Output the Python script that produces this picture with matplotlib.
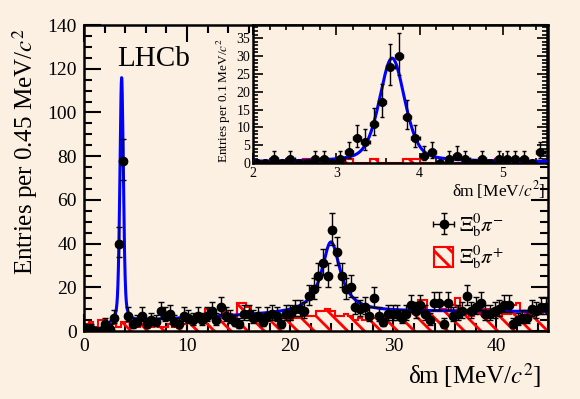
import numpy as np
import matplotlib
matplotlib.use("Agg")
import matplotlib.pyplot as plt
from matplotlib.ticker import MultipleLocator

plt.rcParams["font.family"] = ["Liberation Serif", "DejaVu Serif"]
plt.rcParams["mathtext.fontset"] = "stix"
plt.rcParams["hatch.color"] = "red"
plt.rcParams["hatch.linewidth"] = 2.0

BG = "#FCF0E2"

# main plot: 0.45 MeV bins from 0 to 45
bin_width = 0.45
n_bins = 100
# Xi_b0 pi- (right sign) counts
rs_counts = [1, 1, 0, 0, 3, 1, 6, 40, 78, 7,
             3, 4, 7, 3, 5, 4, 9, 7, 8, 4,
             3, 7, 6, 5, 7, 5, 7, 9, 5, 11,
             7, 6, 4, 3, 8, 8, 6, 7, 4, 7,
             8, 7, 3, 8, 8, 10, 10, 9, 16, 19,
             25, 31, 25, 46, 36, 25, 19, 20, 11, 10,
             11, 7, 15, 7, 4, 8, 8, 8, 6, 8,
             12, 9, 12, 8, 5, 13, 13, 3, 13, 7,
             8, 9, 16, 9, 11, 13, 8, 8, 9, 10,
             12, 12, 3, 5, 6, 6, 10, 9, 11, 11]
# Xi_b0 pi+ (wrong sign) counts
ws_counts = [3, 4, 2, 5, 5, 3, 3, 2, 4, 4,
             2, 2, 3, 2, 2, 3, 2, 2, 3, 2,
             2, 3, 6, 6, 8, 8, 10, 7, 6, 6,
             9, 8, 6, 13, 13, 11, 7, 8, 7, 7,
             6, 7, 6, 6, 5, 6, 6, 7, 7, 7,
             9, 9, 10, 9, 7, 7, 8, 7, 5, 6,
             5, 6, 6, 7, 6, 8, 8, 9, 8, 8,
             9, 8, 14, 14, 9, 9, 9, 10, 9, 12,
             15, 8, 8, 7, 8, 10, 10, 10, 8, 7,
             8, 8, 12, 13, 9, 8, 9, 9, 8, 9]

# inset: 0.1 MeV bins from 2.0 to 5.5
inset_bin_width = 0.1
inset_start = 2.0
inset_rs = [0, 0, 1, 0, 1, 0, 0, 1, 1, 0,
            1, 3, 7, 6, 11, 17, 27, 30, 13, 7,
            2, 3, 0, 1, 2, 1, 0, 1, 0, 1,
            1, 1, 1, 0, 3]
inset_ws = [0, 0, 0, 0, 0, 0, 1, 0, 0, 0,
            0, 1, 0, 0, 1, 0, 0, 0, 1, 1,
            0, 0, 0, 0, 0, 0, 0, 0, 0, 1,
            0, 0, 0, 0, 0]

# fit parameters
bkg_threshold = 1.4
bkg_max, bkg_curv, bkg_turn = 9.0, 0.0041, 37.5
peak1_mean, peak1_fwhm, peak1_amp = 3.65, 0.40, 112.0
peak2_mean, peak2_fwhm, peak2_amp = 23.95, 2.2, 32.5
inset_mean, inset_fwhm, inset_amp, inset_bkg = 3.67, 0.36, 29.0, 0.4


def pvoigt(x, mu, fwhm, eta):
    g = np.exp(-4 * np.log(2) * ((x - mu) / fwhm) ** 2)
    l = 1.0 / (1.0 + (2 * (x - mu) / fwhm) ** 2)
    return eta * l + (1 - eta) * g


def background(x):
    thr = np.clip(1 - np.exp(-(x - bkg_threshold) / 1.0), 0, None)
    return thr * (bkg_max - bkg_curv * (x - bkg_turn) ** 2)


def poisson_errors(n):
    n = np.asarray(n, dtype=float)
    hi = np.where(n > 0, 1 + np.sqrt(n + 0.75), 0)
    safe = np.where(n > 0, n, 1)
    lo = np.where(n > 0, n - safe * (1 - 1 / (9 * safe) - 1 / (3 * np.sqrt(safe))) ** 3, 0)
    return lo, hi


edges = np.arange(n_bins + 1) * bin_width
centers = edges[:-1] + bin_width / 2
in_edges = inset_start + np.arange(len(inset_rs) + 1) * inset_bin_width
in_centers = in_edges[:-1] + inset_bin_width / 2

fig = plt.figure(figsize=(5.8, 3.99), dpi=100, facecolor=BG)
ax = fig.add_axes([84 / 580, 68 / 399, 464 / 580, 306 / 399], facecolor=BG)

ax.stairs(ws_counts, edges, fill=True, facecolor="none", edgecolor="red",
          hatch="\\\\", lw=1.5, label=r"$\Xi_{\mathrm{b}}^{0}\pi^{+}$", zorder=2)
xf = np.linspace(0, 45, 3000)
yf = background(xf) + peak1_amp * pvoigt(xf, peak1_mean, peak1_fwhm, 0.4) \
    + peak2_amp * pvoigt(xf, peak2_mean, peak2_fwhm, 1.0)
ax.plot(xf, yf, color="blue", lw=2.2, zorder=3)
lo, hi = poisson_errors(rs_counts)
ax.errorbar(centers, rs_counts, xerr=bin_width / 2, yerr=[lo, hi], fmt="o",
            color="black", ms=6, elinewidth=1, capsize=2, capthick=1,
            label=r"$\Xi_{\mathrm{b}}^{0}\pi^{-}$", zorder=4)

ax.set_xlim(0, 45)
ax.set_ylim(0, 140)
ax.xaxis.set_major_locator(MultipleLocator(10))
ax.xaxis.set_minor_locator(MultipleLocator(2))
ax.yaxis.set_major_locator(MultipleLocator(20))
ax.yaxis.set_minor_locator(MultipleLocator(5))
ax.tick_params(which="both", direction="in", top=True, right=True, width=1.5,
               labelsize=14, pad=5)
ax.tick_params(which="major", length=12)
ax.tick_params(which="minor", length=6)
for s in ax.spines.values():
    s.set_linewidth(1.8)

h, l = ax.get_legend_handles_labels()
ax.legend(h[::-1], l[::-1], loc="upper left", bbox_to_anchor=(0.755, 0.39),
          frameon=False, fontsize=15, handlelength=0.9, handleheight=1.1,
          handletextpad=0.3, labelspacing=0.2, borderpad=0, borderaxespad=0)

fig.text(117 / 580, 1 - 66 / 399, "LHCb", fontsize=21, va="baseline")
fig.text(25 / 580, 1 - 152 / 399, "Entries per 0.45 MeV/$c^2$", fontsize=18,
         rotation=90, ha="center", va="center")
fig.text(541 / 580, 1 - 376 / 399, "δm [MeV/$c^2$]", fontsize=18,
         ha="right", va="center")

# inset
axi = fig.add_axes([253 / 580, 236 / 399, 294 / 580, 138 / 399], facecolor=BG)
axi.stairs(inset_ws, in_edges, fill=True, facecolor="none", edgecolor="red",
           hatch="\\\\", lw=1.5, zorder=2)
xi = np.linspace(2, 5.6, 1000)
axi.plot(xi, inset_bkg + inset_amp * pvoigt(xi, inset_mean, inset_fwhm, 0.4),
         color="blue", lw=2.2, zorder=3)
ilo, ihi = poisson_errors(inset_rs)
axi.errorbar(in_centers, inset_rs, xerr=inset_bin_width / 2, yerr=[ilo, ihi],
             fmt="o", color="black", ms=5.5, elinewidth=1, capsize=1.5,
             capthick=1, zorder=4)
axi.set_xlim(2, 5.53)
axi.set_ylim(0, 38.7)
axi.xaxis.set_major_locator(MultipleLocator(1))
axi.xaxis.set_minor_locator(MultipleLocator(0.2))
axi.yaxis.set_major_locator(MultipleLocator(5))
axi.yaxis.set_minor_locator(MultipleLocator(1))
axi.tick_params(which="both", direction="in", top=True, right=True, width=1.2,
                labelsize=10)
axi.tick_params(which="major", length=7)
axi.tick_params(which="minor", length=3.5)
axi.tick_params(axis="x", pad=3)
axi.tick_params(axis="y", pad=2)
for s in axi.spines.values():
    s.set_linewidth(1.8)

fig.text(224 / 580, 1 - 100 / 399, "Entries per 0.1 MeV/$c^2$", fontsize=9.5,
         rotation=90, ha="center", va="center")
fig.text(545 / 580, 1 - 190 / 399, "δm [MeV/$c^2$]", fontsize=12.5,
         ha="right", va="center")

fig.savefig("out.png", dpi=100, facecolor=BG)
